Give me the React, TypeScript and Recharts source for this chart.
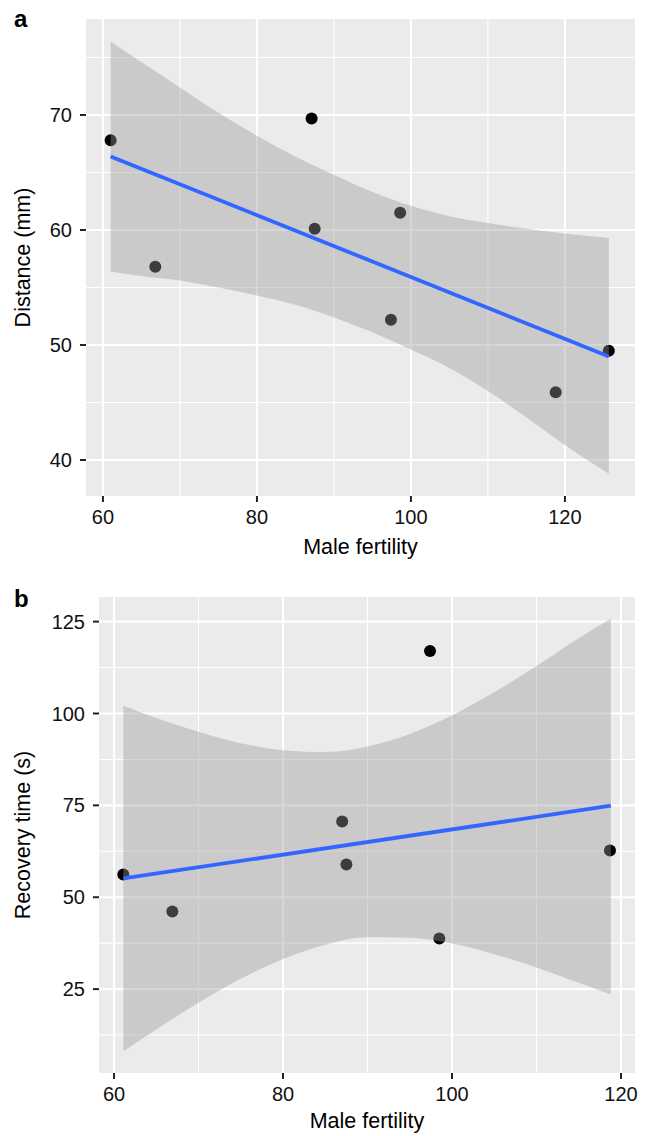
import React from 'react';
import { ComposedChart, Area, Line, Scatter, XAxis, YAxis, CartesianGrid } from 'recharts';

// panel a: distance vs male fertility
const fertilityA = [61.0, 66.8, 87.1, 87.5, 97.4, 98.6, 118.8, 125.7];
const distance = [67.8, 56.8, 69.7, 60.1, 52.2, 61.5, 45.9, 49.5];
const bandXA = [61, 65, 70, 75, 80, 85, 90, 95, 100, 105, 110, 115, 120, 125.7];
const lowerA = [56.4, 56.0, 55.6, 55.0, 54.3, 53.5, 52.4, 51.1, 49.6, 48.0, 46.0, 43.7, 41.3, 38.8];
const upperA = [76.4, 74.6, 72.4, 70.2, 68.2, 66.4, 64.8, 63.3, 62.1, 61.2, 60.6, 60.1, 59.7, 59.3];
const fitXA = [61.0, 125.7];
const fitYA = [66.4, 49.0];

// panel b: recovery time vs male fertility
const fertilityB = [61.1, 66.9, 87.0, 87.5, 97.4, 98.5, 118.7];
const recovery = [56.2, 46.1, 70.6, 58.9, 117.0, 38.8, 62.7];
const bandXB = [61.1, 65, 70, 75, 80, 85, 90, 95, 100, 105, 110, 115, 118.8];
const lowerB = [8.1, 14.0, 21.3, 27.8, 33.2, 37.1, 39.1, 39.0, 37.4, 34.5, 30.9, 26.7, 23.5];
const upperB = [102.1, 98.8, 95.0, 91.9, 90.0, 89.5, 91.0, 94.4, 99.5, 105.8, 112.9, 120.5, 125.8];
const fitXB = [61.1, 118.8];
const fitYB = [55.1, 74.9];

const xTicks = [60, 80, 100, 120];
const xMinor = [70, 90, 110];
const yTicksA = [40, 50, 60, 70];
const yMinorA = [45, 55, 65, 75];
const yTicksB = [25, 50, 75, 100, 125];
const yMinorB = [12.5, 37.5, 62.5, 87.5, 112.5];

const FONT = '"Liberation Sans", Arial, Helvetica, sans-serif';
const tickStyle = { fill: '#111', fontSize: 20, fontFamily: FONT };
const titleStyle = { fill: '#000', fontSize: 21.5, fontFamily: FONT };

const dot = (props: any) => <circle cx={props.cx} cy={props.cy} r={6} fill="#000" />;

type PanelProps = {
  height: number;
  margin: { top: number; right: number; bottom: number; left: number };
  yWidth: number;
  xHeight: number;
  xDomain: [number, number];
  yDomain: [number, number];
  yTicks: number[];
  yMinor: number[];
  yTitle: string;
  points: { x: number; y: number }[];
  band: { x: number; lo: number; hi: number }[];
  fit: { x: number; y: number }[];
};

function Panel(p: PanelProps) {
  return (
    <ComposedChart width={651} height={p.height} margin={p.margin} data={p.band}>
      <CartesianGrid
        fill="#EBEBEB"
        fillOpacity={1}
        stroke="#fff"
        strokeWidth={1.1}
        horizontalValues={p.yMinor}
        verticalValues={xMinor}
      />
      <CartesianGrid
        stroke="#fff"
        strokeWidth={2.2}
        horizontalValues={p.yTicks}
        verticalValues={xTicks}
      />
      <XAxis
        type="number"
        dataKey="x"
        domain={p.xDomain}
        allowDataOverflow
        ticks={xTicks}
        height={p.xHeight}
        axisLine={false}
        tickSize={6}
        tickMargin={8}
        tickLine={{ stroke: '#222', strokeWidth: 2 }}
        tick={tickStyle}
        label={{ value: 'Male fertility', position: 'insideBottom', offset: 4, style: titleStyle }}
      />
      <YAxis
        type="number"
        domain={p.yDomain}
        allowDataOverflow
        ticks={p.yTicks}
        width={p.yWidth}
        axisLine={false}
        tickSize={6}
        tickMargin={8}
        tickLine={{ stroke: '#222', strokeWidth: 2 }}
        tick={tickStyle}
        label={{
          value: p.yTitle,
          angle: -90,
          position: 'insideLeft',
          offset: 22,
          style: { ...titleStyle, textAnchor: 'middle' },
        }}
      />
      <Scatter data={p.points} dataKey="y" shape={dot} isAnimationActive={false} zIndex={50} />
      <Area
        type="monotone"
        dataKey={(d: any) => [d.lo, d.hi]}
        stroke="none"
        fill="#999999"
        fillOpacity={0.4}
        isAnimationActive={false}
        activeDot={false}
      />
      <Line
        data={p.fit}
        dataKey="y"
        stroke="#3366FF"
        strokeWidth={3.8}
        dot={false}
        activeDot={false}
        isAnimationActive={false}
      />
    </ComposedChart>
  );
}

const panelLabel = (top: number): React.CSSProperties => ({
  position: 'absolute',
  left: 14,
  top,
  fontFamily: FONT,
  fontWeight: 'bold',
  fontSize: 24,
  lineHeight: '24px',
});

export default function App() {
  const pointsA = fertilityA.map((x, i) => ({ x, y: distance[i] }));
  const bandA = bandXA.map((x, i) => ({ x, lo: lowerA[i], hi: upperA[i] }));
  const fitA = fitXA.map((x, i) => ({ x, y: fitYA[i] }));
  const pointsB = fertilityB.map((x, i) => ({ x, y: recovery[i] }));
  const bandB = bandXB.map((x, i) => ({ x, lo: lowerB[i], hi: upperB[i] }));
  const fitB = fitXB.map((x, i) => ({ x, y: fitYB[i] }));

  return (
    <div style={{ position: 'absolute', left: 0, top: 0, width: 651, height: 1136, background: '#fff', fontFamily: FONT }}>
      <div style={{ position: 'absolute', left: 0, top: 0 }}>
        <Panel
          height={570}
          margin={{ top: 19, right: 16, bottom: 12, left: 0 }}
          yWidth={86}
          xHeight={62}
          xDomain={[57.8, 129.1]}
          yDomain={[36.87, 78.35]}
          yTicks={yTicksA}
          yMinor={yMinorA}
          yTitle="Distance (mm)"
          points={pointsA}
          band={bandA}
          fit={fitA}
        />
      </div>
      <div style={{ position: 'absolute', left: 0, top: 570 }}>
        <Panel
          height={566}
          margin={{ top: 27, right: 16, bottom: 4, left: 0 }}
          yWidth={99}
          xHeight={59}
          xDomain={[58.22, 121.66]}
          yDomain={[2.17, 131.7]}
          yTicks={yTicksB}
          yMinor={yMinorB}
          yTitle="Recovery time (s)"
          points={pointsB}
          band={bandB}
          fit={fitB}
        />
      </div>
      <div style={panelLabel(7)}>a</div>
      <div style={panelLabel(587)}>b</div>
    </div>
  );
}
